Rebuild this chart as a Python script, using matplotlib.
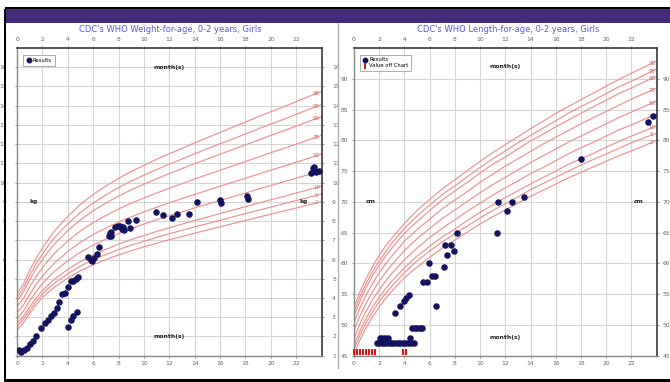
import matplotlib
matplotlib.use('Agg')
import matplotlib.pyplot as plt
from matplotlib.patches import Rectangle
from matplotlib.lines import Line2D

# ---------------- data ----------------
months = [0, 0.5, 1, 1.5, 2, 2.5, 3, 4, 5, 6, 7, 8, 9, 10, 11, 12, 13, 14, 15, 16, 17, 18, 19, 20, 21, 22, 23, 24]
pct_labels = ['2', '5', '10', '25', '50', '75', '90', '95', '98']

w_p2 = [2.33, 2.70, 3.18, 3.64, 4.03, 4.33, 4.59, 5.04, 5.42, 5.73, 6.00, 6.24, 6.46, 6.66, 6.85, 7.03, 7.20, 7.37, 7.54, 7.70, 7.87, 8.03, 8.20, 8.36, 8.52, 8.68, 8.85, 9.01]
w_p5 = [2.52, 2.89, 3.35, 3.81, 4.21, 4.52, 4.80, 5.26, 5.66, 5.99, 6.26, 6.52, 6.75, 6.95, 7.15, 7.34, 7.52, 7.70, 7.87, 8.04, 8.22, 8.39, 8.56, 8.73, 8.90, 9.07, 9.24, 9.41]
w_p10 = [2.68, 3.05, 3.54, 4.00, 4.39, 4.71, 5.00, 5.49, 5.90, 6.24, 6.53, 6.80, 7.04, 7.25, 7.46, 7.65, 7.84, 8.03, 8.21, 8.39, 8.57, 8.75, 8.93, 9.11, 9.28, 9.46, 9.64, 9.82]
w_p25 = [2.94, 3.32, 3.85, 4.33, 4.75, 5.10, 5.41, 5.94, 6.38, 6.75, 7.07, 7.35, 7.61, 7.84, 8.07, 8.28, 8.48, 8.69, 8.88, 9.07, 9.27, 9.46, 9.66, 9.85, 10.04, 10.23, 10.42, 10.62]
w_p50 = [3.23, 3.63, 4.19, 4.70, 5.13, 5.51, 5.85, 6.42, 6.90, 7.30, 7.64, 7.95, 8.23, 8.48, 8.72, 8.95, 9.17, 9.39, 9.60, 9.81, 10.02, 10.23, 10.44, 10.65, 10.85, 11.06, 11.27, 11.48]
w_p75 = [3.55, 3.97, 4.58, 5.11, 5.57, 5.98, 6.35, 6.97, 7.49, 7.92, 8.29, 8.63, 8.93, 9.20, 9.46, 9.71, 9.95, 10.19, 10.42, 10.64, 10.87, 11.10, 11.33, 11.56, 11.77, 12.00, 12.23, 12.46]
w_p90 = [3.84, 4.30, 4.94, 5.52, 6.00, 6.45, 6.84, 7.51, 8.07, 8.54, 8.94, 9.30, 9.63, 9.92, 10.20, 10.47, 10.73, 10.99, 11.23, 11.48, 11.72, 11.97, 12.21, 12.46, 12.69, 12.94, 13.19, 13.43]
w_p95 = [4.02, 4.50, 5.17, 5.78, 6.28, 6.75, 7.17, 7.86, 8.45, 8.94, 9.36, 9.74, 10.08, 10.39, 10.68, 10.96, 11.23, 11.50, 11.76, 12.02, 12.27, 12.53, 12.79, 13.05, 13.29, 13.55, 13.81, 14.06]
w_p98 = [4.22, 4.72, 5.43, 6.06, 6.59, 7.08, 7.52, 8.25, 8.87, 9.38, 9.82, 10.22, 10.58, 10.90, 11.21, 11.50, 11.78, 12.07, 12.34, 12.61, 12.88, 13.15, 13.42, 13.69, 13.94, 14.21, 14.48, 14.75]

l_p2 = [45.3, 47.7, 49.7, 51.4, 52.9, 54.3, 55.5, 57.7, 59.4, 61.0, 62.5, 63.8, 65.1, 66.4, 67.6, 68.7, 69.8, 70.9, 71.9, 72.9, 73.9, 74.8, 75.7, 76.6, 77.5, 78.3, 79.1, 80.0]
l_p5 = [46.0, 48.5, 50.5, 52.2, 53.8, 55.1, 56.3, 58.5, 60.4, 62.0, 63.5, 64.8, 66.1, 67.4, 68.6, 69.7, 70.8, 72.0, 73.0, 74.0, 75.0, 76.0, 76.9, 77.8, 78.7, 79.6, 80.4, 81.2]
l_p10 = [46.7, 49.2, 51.2, 53.0, 54.5, 55.9, 57.1, 59.3, 61.2, 62.8, 64.3, 65.6, 67.0, 68.3, 69.5, 70.7, 71.8, 72.9, 74.0, 75.0, 76.1, 77.0, 77.9, 78.9, 79.8, 80.7, 81.5, 82.4]
l_p25 = [47.8, 50.3, 52.4, 54.2, 55.7, 57.1, 58.4, 60.6, 62.5, 64.2, 65.7, 67.1, 68.5, 69.8, 71.1, 72.3, 73.4, 74.6, 75.6, 76.7, 77.8, 78.8, 79.7, 80.7, 81.7, 82.5, 83.4, 84.3]
l_p50 = [49.1, 51.6, 53.7, 55.5, 57.1, 58.5, 59.8, 62.1, 64.0, 65.7, 67.3, 68.7, 70.1, 71.5, 72.8, 74.0, 75.2, 76.4, 77.5, 78.6, 79.7, 80.7, 81.7, 82.7, 83.7, 84.6, 85.5, 86.4]
l_p75 = [50.4, 52.9, 55.0, 56.8, 58.5, 59.9, 61.2, 63.6, 65.5, 67.2, 68.9, 70.3, 71.7, 73.2, 74.5, 75.8, 77.0, 78.2, 79.4, 80.5, 81.6, 82.7, 83.7, 84.7, 85.7, 86.7, 87.6, 88.5]
l_p90 = [51.5, 54.0, 56.2, 58.1, 59.7, 61.2, 62.5, 64.9, 66.8, 68.6, 70.3, 71.8, 73.2, 74.7, 76.1, 77.3, 78.6, 79.9, 81.0, 82.2, 83.3, 84.4, 85.5, 86.5, 87.6, 88.5, 89.5, 90.4]
l_p95 = [52.2, 54.7, 56.9, 58.8, 60.4, 61.9, 63.3, 65.7, 67.7, 69.5, 71.2, 72.6, 74.1, 75.6, 77.0, 78.3, 79.6, 80.8, 82.0, 83.2, 84.4, 85.5, 86.5, 87.6, 88.7, 89.6, 90.6, 91.6]
l_p98 = [52.9, 55.5, 57.7, 59.6, 61.3, 62.8, 64.1, 66.5, 68.6, 70.4, 72.1, 73.6, 75.1, 76.6, 78.0, 79.3, 80.6, 81.9, 83.1, 84.4, 85.5, 86.6, 87.7, 88.8, 89.9, 90.9, 91.9, 92.9]

w_age = [0.13, 0.29, 0.53, 0.79, 1.06, 1.27, 1.48, 1.90, 2.17, 2.43, 2.64, 2.91, 3.12, 3.33, 3.54, 3.75,
         4.01, 4.23, 4.44, 4.65, 4.78, 4.01, 4.23, 4.44, 4.75,
         5.63, 5.81, 5.92, 6.08, 6.29, 6.50, 7.21, 7.34, 7.42, 7.42, 7.74, 7.92, 8.14, 8.27, 8.35, 8.45,
         8.74, 8.87, 9.40, 10.99, 11.49, 12.23, 12.63, 13.55, 14.16, 16.01, 16.06, 18.12, 18.17,
         23.18, 23.30, 23.43, 23.56, 23.82]
w_kg = [1.30, 1.18, 1.30, 1.42, 1.61, 1.77, 2.04, 2.46, 2.69, 2.86, 3.07, 3.24, 3.47, 3.77, 4.20, 4.25,
        4.55, 4.90, 4.91, 4.98, 5.07, 2.50, 2.86, 3.09, 3.28,
        6.13, 5.99, 5.94, 6.08, 6.29, 6.63, 7.24, 7.38, 7.43, 7.24, 7.68, 7.73, 7.77, 7.58, 7.70, 7.52,
        8.03, 7.63, 8.04, 8.46, 8.34, 8.17, 8.37, 8.37, 9.00, 9.12, 8.95, 9.33, 9.16,
        10.48, 10.74, 10.80, 10.56, 10.61]

l_age = [1.79, 1.98, 2.19, 2.40, 2.61, 2.82, 3.03, 3.24, 3.45, 3.66, 3.87, 4.08, 4.30, 4.51, 4.72,
         2.03, 2.24, 2.45, 2.66, 4.45,
         4.61, 4.82, 5.03, 5.24, 5.40,
         3.24, 3.66, 3.93, 4.14, 4.40,
         5.51, 5.77, 6.19, 6.46, 6.51, 5.98,
         7.17, 7.19, 7.40, 7.67, 7.93, 8.19,
         11.33, 11.41, 12.12, 12.54, 13.47, 18.02, 23.28, 23.71]
l_cm = [47.0, 47.0, 47.0, 47.0, 47.0, 47.0, 47.0, 47.0, 47.0, 47.0, 47.0, 47.0, 47.0, 47.0, 47.0,
        47.9, 47.9, 47.9, 47.9, 47.9,
        49.5, 49.5, 49.5, 49.5, 49.5,
        51.9, 53.0, 53.9, 54.35, 54.9,
        56.9, 56.9, 57.9, 57.9, 53.0, 60.0,
        59.35, 63.0, 61.3, 63.0, 62.0, 65.0,
        65.0, 70.0, 68.5, 70.0, 70.8, 76.9, 83.0, 84.0]

off_age = [0.0, 0.23, 0.47, 0.70, 0.94, 1.17, 1.41, 1.64, 3.88, 4.12]
off_cm = [45.6] * len(off_age)

weight_curves = [w_p2, w_p5, w_p10, w_p25, w_p50, w_p75, w_p90, w_p95, w_p98]
length_curves = [l_p2, l_p5, l_p10, l_p25, l_p50, l_p75, l_p90, l_p95, l_p98]

# ---------------- styling ----------------
W, H = 670, 382
CURVE = '#f08a8a'
DOT = '#13135f'
GRID = '#d6d6d6'
TICK = '#666666'
TITLE = '#5a5ae8'

fig = plt.figure(figsize=(W / 100, H / 100), dpi=100)
fig.patch.set_facecolor('white')


def fx(px):
    return px / W


def fy(py):
    return 1 - py / H


# frame decorations
fig.add_artist(Rectangle((fx(5), fy(23)), fx(665), 15 / H, transform=fig.transFigure,
                         facecolor='#432a7a', edgecolor='none'))
fig.add_artist(Rectangle((fx(5), fy(9)), fx(665), 2 / H, transform=fig.transFigure,
                         facecolor='black', edgecolor='none'))
fig.add_artist(Rectangle((fx(4), fy(381)), 2 / W, 372 / H, transform=fig.transFigure,
                         facecolor='black', edgecolor='none'))
fig.add_artist(Rectangle((fx(4), fy(382)), fx(666), 3 / H, transform=fig.transFigure,
                         facecolor='black', edgecolor='none'))
fig.add_artist(Line2D([fx(338), fx(338)], [fy(23), fy(368)], transform=fig.transFigure,
                      color='#b0b0b0', lw=1.0))

fig.text(fx(170), fy(29.5), "CDC's WHO Weight-for-age, 0-2 years, Girls", color=TITLE,
         fontsize=6.0, ha='center', va='center')
fig.text(fx(508), fy(29.5), "CDC's WHO Length-for-age, 0-2 years, Girls", color=TITLE,
         fontsize=6.0, ha='center', va='center')

ax1 = fig.add_axes([fx(17), fy(355.7), (321.6 - 17) / W, (355.7 - 48) / H])
ax2 = fig.add_axes([fx(354), fy(355.7), (656.7 - 354) / W, (355.7 - 48) / H])


def style(ax, ylim, yticks, unit, unit_y, top_y, bot_y):
    ax.set_xlim(0, 24)
    ax.set_ylim(*ylim)
    ax.set_xticks(range(0, 23, 2))
    ax.set_yticks(yticks)
    ax.grid(True, color=GRID, lw=0.8, zorder=0)
    ax.set_axisbelow(True)
    ax.tick_params(axis='both', which='major', labelsize=4.3, colors=TICK, length=1.5,
                   top=True, right=True, labeltop=True, labelright=True, pad=2.5, width=0.5)
    for s in ['top', 'right']:
        ax.spines[s].set_color('#3a3a3a')
        ax.spines[s].set_linewidth(1.2)
    for s in ['left', 'bottom']:
        ax.spines[s].set_color('#8a8a8a')
        ax.spines[s].set_linewidth(1.0)
    ax.text(12, top_y, 'month(s)', fontsize=4.3, fontweight='bold', ha='center', va='center', color='#222')
    ax.text(12, bot_y, 'month(s)', fontsize=4.3, fontweight='bold', ha='center', va='center', color='#222')
    ax.text(1.3, unit_y, unit, fontsize=4.3, fontweight='bold', ha='center', va='center', color='#222')
    ax.text(22.6, unit_y, unit, fontsize=4.3, fontweight='bold', ha='center', va='center', color='#222')


def curves(ax, data):
    for lab, c in zip(pct_labels, data):
        ax.plot(months, c, color=CURVE, lw=0.8, zorder=2)
        yv = c[-2] + (c[-1] - c[-2]) * 0.6
        ax.text(23.6, yv, lab, fontsize=4.0, color='#c46a6a', ha='center', va='center', zorder=3)


style(ax1, (1, 17), range(1, 17), 'kg', 9, 16, 2)
ax1.tick_params(axis='y', labelleft=True, pad=6)
curves(ax1, weight_curves)
ax1.scatter(w_age, w_kg, s=22, color=DOT, zorder=5, linewidths=0)
leg1 = ax1.legend(handles=[Line2D([], [], ls='none', marker='o', color=DOT, markersize=3.2, label='Results')],
                  loc='upper left', fontsize=3.8, frameon=True, fancybox=False, edgecolor='#888',
                  borderpad=0.5, handletextpad=0.3, bbox_to_anchor=(0.012, 0.985), handlelength=1.0)
leg1.get_frame().set_linewidth(0.6)

style(ax2, (45, 95), range(45, 91, 5), 'cm', 70, 92, 48)
curves(ax2, length_curves)
ax2.scatter(l_age, l_cm, s=22, color=DOT, zorder=5, linewidths=0)
ax2.scatter(off_age, off_cm, marker='|', s=24, color='#e01010', linewidths=1.4, zorder=6, clip_on=False)
leg2 = ax2.legend(handles=[Line2D([], [], ls='none', marker='o', color=DOT, markersize=3.2, label='Results'),
                           Line2D([], [], ls='none', marker='|', color='#e01010', markersize=4, mew=1.4,
                                  label='Value off Chart')],
                  loc='upper left', fontsize=3.8, frameon=True, fancybox=False, edgecolor='#888',
                  borderpad=0.4, handletextpad=0.3, bbox_to_anchor=(0.012, 0.985), handlelength=1.0,
                  labelspacing=0.2)
leg2.get_frame().set_linewidth(0.6)

fig.savefig('out.png', dpi=100)
